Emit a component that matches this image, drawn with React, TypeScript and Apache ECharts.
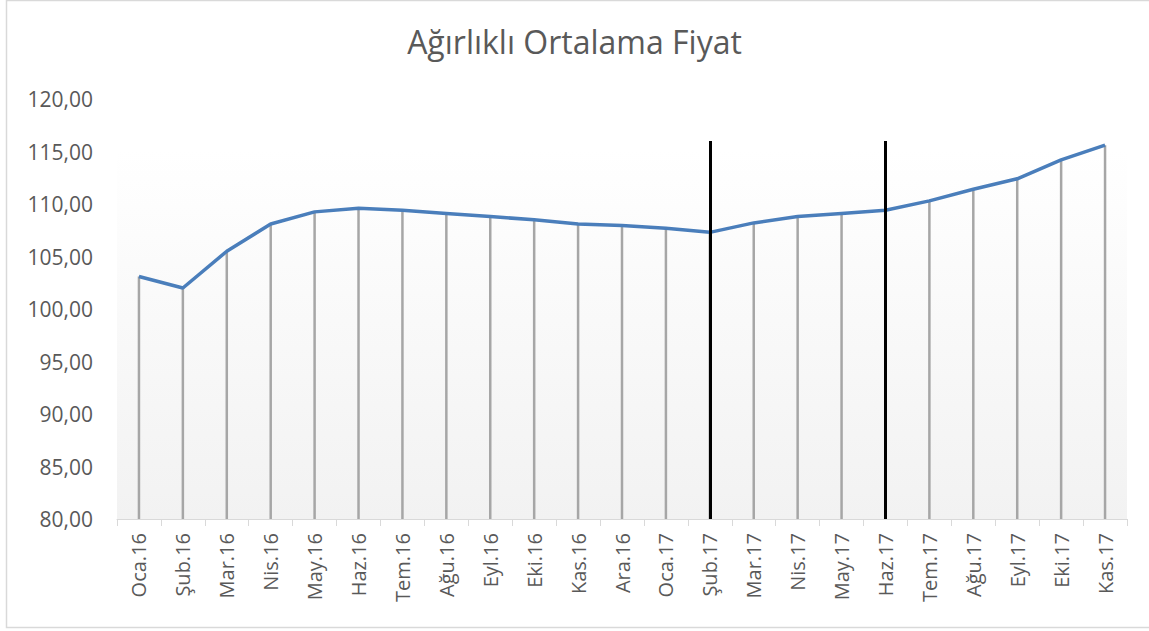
import React, { useEffect, useRef } from "react";
import * as echarts from "echarts";

const categories = [
  "Oca.16", "Şub.16", "Mar.16", "Nis.16", "May.16", "Haz.16", "Tem.16", "Ağu.16",
  "Eyl.16", "Eki.16", "Kas.16", "Ara.16", "Oca.17", "Şub.17", "Mar.17", "Nis.17",
  "May.17", "Haz.17", "Tem.17", "Ağu.17", "Eyl.17", "Eki.17", "Kas.17",
];
const prices = [
  103.1, 102.0, 105.5, 108.1, 109.25, 109.6, 109.4, 109.1,
  108.8, 108.5, 108.1, 107.95, 107.7, 107.3, 108.2, 108.8,
  109.1, 109.4, 110.3, 111.4, 112.4, 114.2, 115.6,
];
const markerCategories = ["Şub.17", "Haz.17"];
const markerTop = 116;
const yMin = 80;
const yMax = 120;
const yStep = 5;
const title = "Ağırlıklı Ortalama Fiyat";

const FONT = "'Open Sans', 'Noto Sans', sans-serif";
const GREY = "#595959";

export default function App() {
  const ref = useRef<HTMLDivElement>(null);
  useEffect(() => {
    if (!ref.current) return;
    const chart = echarts.init(ref.current, null, { renderer: "svg" });
    chart.setOption({
      animation: false,
      backgroundColor: "#ffffff",
      title: {
        text: title,
        left: "center",
        top: 20,
        textStyle: { fontFamily: FONT, fontSize: 32, fontWeight: "normal", color: GREY },
      },
      graphic: [
        {
          type: "rect",
          z: -10,
          silent: true,
          shape: { x: 6.5, y: 0.5, width: 1160, height: 627 },
          style: { fill: "none", stroke: "#d9d9d9", lineWidth: 1.5 },
        },
        {
          type: "rect",
          z: -5,
          silent: true,
          shape: { x: 117, y: 150, width: 1010, height: 369 },
          style: {
            fill: new echarts.graphic.LinearGradient(0, 0, 0, 1, [
              { offset: 0, color: "#ffffff" },
              { offset: 1, color: "#f2f2f2" },
            ]),
          },
        },
      ],
      grid: { left: 117, right: 22, top: 99, bottom: 112, containLabel: false },
      xAxis: {
        type: "category",
        data: categories,
        boundaryGap: true,
        axisLine: { lineStyle: { color: "#d9d9d9", width: 1 } },
        axisTick: { show: true, length: 7, lineStyle: { color: "#d9d9d9" } },
        axisLabel: {
          rotate: 90,
          margin: 14,
          interval: 0,
          fontFamily: FONT,
          fontSize: 20,
          color: GREY,
        },
      },
      yAxis: {
        type: "value",
        min: yMin,
        max: yMax,
        interval: yStep,
        axisLine: { show: false },
        axisTick: { show: false },
        splitLine: { show: false },
        axisLabel: {
          margin: 24,
          fontFamily: FONT,
          fontSize: 21,
          color: GREY,
          formatter: (v: number) => v.toFixed(2).replace(".", ","),
        },
      },
      series: [
        {
          type: "bar",
          data: prices,
          barWidth: 2.5,
          itemStyle: { color: "#a6a6a6" },
          silent: true,
          z: 1,
        },
        {
          type: "line",
          data: prices,
          showSymbol: false,
          symbol: "none",
          lineStyle: { color: "#4a7ebb", width: 3.5 },
          z: 3,
          markLine: {
            silent: true,
            symbol: "none",
            label: { show: false },
            lineStyle: { color: "#000000", width: 3, type: "solid" },
            data: markerCategories.map((c) => [
              { coord: [c, markerTop] },
              { coord: [c, yMin] },
            ]),
          },
        },
      ],
    });
    return () => chart.dispose();
  }, []);
  return (
    <div
      ref={ref}
      style={{ position: "fixed", left: 0, top: 0, width: 1149, height: 631 }}
    />
  );
}
